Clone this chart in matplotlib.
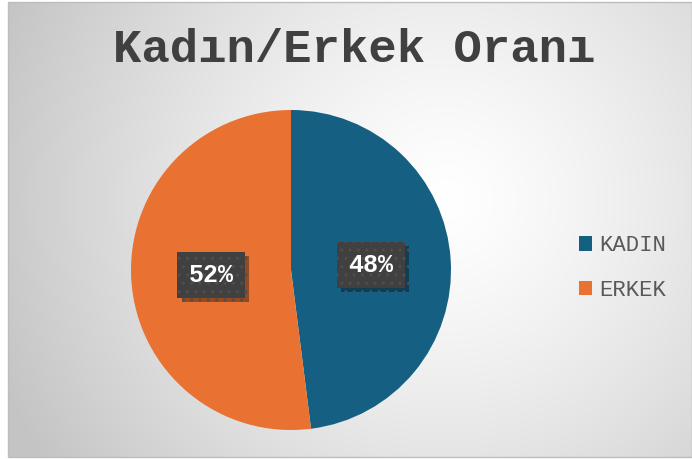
import numpy as np
import matplotlib
matplotlib.use("Agg")
import matplotlib.pyplot as plt
from matplotlib.patches import Rectangle
import matplotlib.patheffects as pe

title = "Kadın/Erkek Oranı"
categories = ["KADIN", "ERKEK"]
values = [48, 52]
colors = ["#156082", "#E97132"]

W, H = 692, 459
fig = plt.figure(figsize=(W / 100, H / 100), dpi=100)
fig.patch.set_facecolor("white")

# background gradient
bg = fig.add_axes([0, 0, 1, 1])
bg.set_xlim(0, W)
bg.set_ylim(H, 0)
bg.axis("off")
x0, x1, y0, y1 = 8, 692, 2, 457
xx, yy = np.meshgrid(np.linspace(x0, x1, 400), np.linspace(y0, y1, 300))
cx, cy = 445, 200
d = np.sqrt((xx - cx) ** 2 + (yy - cy) ** 2) / 480
d = np.clip(d, 0, 1)
light = 1.0 - 0.23 * d ** 1.3
img = np.dstack([light, light, light])
bg.imshow(img, extent=[x0, x1, y1, y0], aspect="auto", zorder=0)
bg.add_patch(Rectangle((x0, y0), x1 - x0, y1 - y0, fill=False, ec="#bdbdbd", lw=1, zorder=1))

fig.text(354 / W, 1 - 50 / H, title, ha="center", va="center",
         fontsize=34, fontweight="bold", family="Liberation Mono", color="#404040")

cxp, cyp, r = 291, 270, 160
ax = fig.add_axes([(cxp - r) / W, (H - cyp - r) / H, 2 * r / W, 2 * r / H])
wedges, texts, autotexts = ax.pie(values, colors=colors, startangle=90, counterclock=False,
                                  autopct=lambda p: f"{p:.0f}%", pctdistance=0.5,
                                  radius=1, wedgeprops=dict(linewidth=0))
ax.set_xlim(-1, 1)
ax.set_ylim(-1, 1)
ax.set_aspect("equal")
ax.axis("off")

for t in autotexts:
    t.set_fontsize(18)
    t.set_fontweight("bold")
    t.set_family("Liberation Mono")
    t.set_color("white")
    t.set_zorder(6)
    t.set_bbox(dict(boxstyle="square,pad=0.45", fc="#404040", ec="#4e4e4e", hatch="..", lw=0))
    t.get_bbox_patch().set_path_effects([
        pe.SimplePatchShadow(offset=(3, -3), shadow_rgbFace="black", alpha=0.35),
        pe.Normal()])

leg = fig.legend(wedges, categories, loc="center left",
                 bbox_to_anchor=(568 / W, 1 - 268 / H), frameon=False,
                 prop=dict(family="Liberation Mono", size=16),
                 handlelength=0.6, handleheight=0.6, handletextpad=0.3,
                 labelspacing=1.05, borderpad=0)
for txt in leg.get_texts():
    txt.set_color("#595959")

fig.savefig("out.png", dpi=100, facecolor="white")
